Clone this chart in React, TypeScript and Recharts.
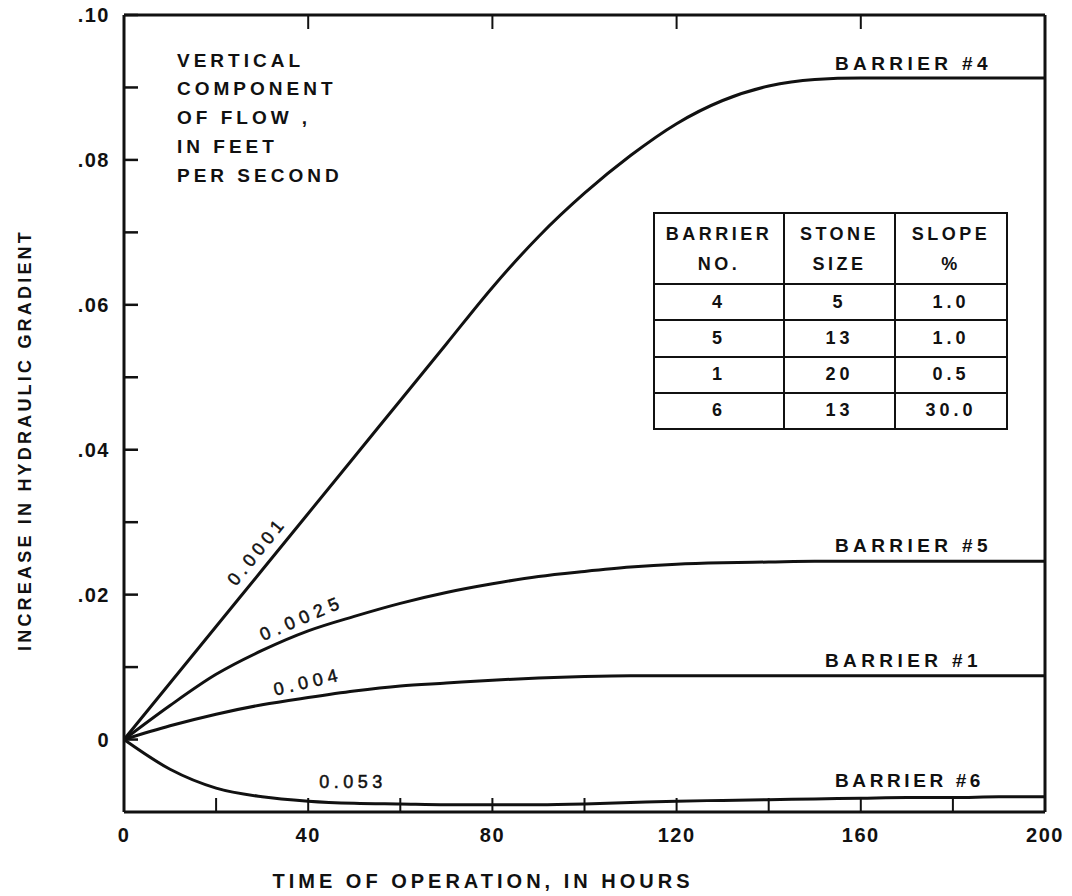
import { LineChart, Line, XAxis, YAxis } from 'recharts';

// time of operation, hours
const hours = [0, 10, 20, 30, 40, 50, 60, 70, 80, 90, 100, 110, 120, 130, 140, 150, 160, 170, 180, 190, 200];

// increase in hydraulic gradient
const barrier4 = [0, 0.0078, 0.0156, 0.0234, 0.0312, 0.039, 0.0468, 0.0546, 0.0624, 0.0694, 0.0754, 0.0806, 0.085, 0.0882, 0.0902, 0.0911, 0.0913, 0.0913, 0.0913, 0.0913, 0.0913];
const barrier5 = [0, 0.0047, 0.009, 0.0123, 0.015, 0.017, 0.0188, 0.0203, 0.0215, 0.0225, 0.0232, 0.0238, 0.0242, 0.0244, 0.0245, 0.0246, 0.0246, 0.0246, 0.0246, 0.0246, 0.0246];
const barrier1 = [0, 0.0019, 0.0035, 0.0048, 0.0058, 0.0067, 0.0074, 0.0078, 0.0082, 0.0085, 0.0087, 0.0088, 0.0088, 0.0088, 0.0088, 0.0088, 0.0088, 0.0088, 0.0088, 0.0088, 0.0088];
const barrier6 = [0, -0.0041, -0.0067, -0.0079, -0.0085, -0.0088, -0.0089, -0.009, -0.009, -0.009, -0.0089, -0.0087, -0.0085, -0.0084, -0.0083, -0.0082, -0.0081, -0.008, -0.008, -0.0079, -0.0079];

const xTicks = [0, 20, 40, 60, 80, 100, 120, 140, 160, 180, 200];
const xLabelTicks = [0, 40, 80, 120, 160, 200];
const topTicks = [40, 80, 120, 160];
const yTicks = [0, 0.01, 0.02, 0.03, 0.04, 0.05, 0.06, 0.07, 0.08, 0.09, 0.1];
const yLabelTicks = [0, 0.02, 0.04, 0.06, 0.08, 0.1];
const rightTicks = [0, 0.02, 0.04, 0.06, 0.08];

const tableBarrierNo = ['4', '5', '1', '6'];
const tableStoneSize = ['5', '13', '20', '13'];
const tableSlope = ['1.0', '1.0', '0.5', '30.0'];

const data = hours.map((h, i) => ({
  hours: h,
  b4: barrier4[i],
  b5: barrier5[i],
  b1: barrier1[i],
  b6: barrier6[i],
}));

const INK = '#111';
const FONT = '"Liberation Sans", Arial, Helvetica, sans-serif';
const TICK_LEN = 14;

const has = (list: number[], v: number) => list.some((t) => Math.abs(t - v) < 1e-9);
const fmtY = (v: number) => (Math.abs(v) < 1e-9 ? '0' : v.toFixed(2).replace(/^0/, ''));

const labelStyle = {
  fontFamily: FONT,
  fontWeight: 'bold' as const,
  fontSize: 20,
  fill: INK,
};

// tickSize/tickMargin are 0, so x/y handed to these are on the axis line itself
function BottomTick(props: any) {
  const { x, y, payload } = props;
  const v = payload.value;
  return (
    <g>
      {v > 0 && v < 200 && (
        <line x1={x} x2={x} y1={y} y2={y - TICK_LEN} stroke={INK} strokeWidth={2} />
      )}
      {has(xLabelTicks, v) && (
        <text x={x} y={y + 23} textAnchor="middle" dominantBaseline="central" letterSpacing={1.5} {...labelStyle}>
          {v}
        </text>
      )}
    </g>
  );
}

function TopTick(props: any) {
  const { x, y } = props;
  return <line x1={x} x2={x} y1={y} y2={y + TICK_LEN} stroke={INK} strokeWidth={2} />;
}

function LeftTick(props: any) {
  const { x, y, payload } = props;
  const v = payload.value;
  return (
    <g>
      <line x1={x} x2={x + TICK_LEN} y1={y} y2={y} stroke={INK} strokeWidth={2.5} />
      {has(yLabelTicks, v) && (
        <text x={x - 14} y={y} textAnchor="end" dominantBaseline="central" letterSpacing={1.5} {...labelStyle}>
          {fmtY(v)}
        </text>
      )}
    </g>
  );
}

function RightTick(props: any) {
  const { x, y } = props;
  return <line x1={x} x2={x - 12} y1={y} y2={y} stroke={INK} strokeWidth={2} />;
}

const cell = {
  border: `2px solid ${INK}`,
  padding: 0,
  textAlign: 'center' as const,
  verticalAlign: 'middle' as const,
};

export default function App() {
  return (
    <div style={{ position: 'relative', width: 1072, height: 896, background: '#fff' }}>
      <style>{'body{margin:0;background:#fff;}'}</style>
      <LineChart
        width={1072}
        height={896}
        data={data}
        margin={{ top: 5, right: 17, bottom: 44, left: 64 }}
      >
        <XAxis
          dataKey="hours"
          type="number"
          domain={[0, 200]}
          ticks={xTicks}
          interval={0}
          height={40}
          tickSize={0}
          tickMargin={0}
          tickLine={false}
          axisLine={{ stroke: INK, strokeWidth: 3 }}
          tick={(p: any) => <BottomTick {...p} />}
        />
        <XAxis
          xAxisId="top"
          orientation="top"
          dataKey="hours"
          type="number"
          domain={[0, 200]}
          ticks={topTicks}
          interval={0}
          height={10}
          tickSize={0}
          tickMargin={0}
          tickLine={false}
          axisLine={{ stroke: INK, strokeWidth: 3 }}
          tick={(p: any) => <TopTick {...p} />}
        />
        <YAxis
          type="number"
          domain={[-0.01, 0.1]}
          ticks={yTicks}
          interval={0}
          width={60}
          tickSize={0}
          tickMargin={0}
          tickLine={false}
          axisLine={{ stroke: INK, strokeWidth: 3 }}
          tick={(p: any) => <LeftTick {...p} />}
        />
        <YAxis
          yAxisId="right"
          orientation="right"
          type="number"
          domain={[-0.01, 0.1]}
          ticks={rightTicks}
          interval={0}
          width={10}
          tickSize={0}
          tickMargin={0}
          tickLine={false}
          axisLine={{ stroke: INK, strokeWidth: 3 }}
          tick={(p: any) => <RightTick {...p} />}
        />
        <Line type="monotone" dataKey="b4" stroke={INK} strokeWidth={3} dot={false} isAnimationActive={false} />
        <Line type="monotone" dataKey="b5" stroke={INK} strokeWidth={3} dot={false} isAnimationActive={false} />
        <Line type="monotone" dataKey="b1" stroke={INK} strokeWidth={3} dot={false} isAnimationActive={false} />
        <Line type="monotone" dataKey="b6" stroke={INK} strokeWidth={3} dot={false} isAnimationActive={false} />
      </LineChart>

      <svg
        width={1072}
        height={896}
        style={{ position: 'absolute', left: 0, top: 0, pointerEvents: 'none' }}
      >
        <g fontFamily={FONT} fontWeight="bold" fill={INK}>
          <text
            transform="translate(25 440) rotate(-90)"
            textAnchor="middle"
            dominantBaseline="central"
            fontSize={18}
            letterSpacing={3.2}
          >
            INCREASE IN HYDRAULIC GRADIENT
          </text>
          <text x={483} y={881} textAnchor="middle" dominantBaseline="central" fontSize={20} letterSpacing={4}>
            TIME OF OPERATION, IN HOURS
          </text>

          <g fontSize={19} letterSpacing={4}>
            <text x={177} y={60} dominantBaseline="central">VERTICAL</text>
            <text x={177} y={88} dominantBaseline="central">COMPONENT</text>
            <text x={177} y={117} dominantBaseline="central">OF FLOW ,</text>
            <text x={177} y={146} dominantBaseline="central">IN FEET</text>
            <text x={177} y={175} dominantBaseline="central">PER SECOND</text>
          </g>

          <g fontSize={19} letterSpacing={4.4}>
            <text x={835} y={63} dominantBaseline="central">BARRIER #4</text>
            <text x={835} y={545} dominantBaseline="central">BARRIER #5</text>
            <text x={825} y={660} dominantBaseline="central">BARRIER #1</text>
            <text x={835} y={780} dominantBaseline="central" letterSpacing={3.6}>BARRIER #6</text>
          </g>
        </g>

        <g fontFamily={FONT} fontSize={18} fill={INK} stroke={INK} strokeWidth={0.5} letterSpacing={4.5}>
          <text transform="translate(257 551) rotate(-51)" textAnchor="middle" dominantBaseline="central">0.0001</text>
          <text transform="translate(302 618) rotate(-23)" textAnchor="middle" dominantBaseline="central" letterSpacing={5.8}>0.0025</text>
          <text transform="translate(308 682) rotate(-13)" textAnchor="middle" dominantBaseline="central" letterSpacing={5}>0.004</text>
          <text x={353} y={782} textAnchor="middle" dominantBaseline="central">0.053</text>
        </g>
      </svg>

      <table
        style={{
          position: 'absolute',
          left: 653,
          top: 212,
          width: 355,
          height: 218,
          borderCollapse: 'collapse',
          fontFamily: FONT,
          fontWeight: 'bold',
          fontSize: 18,
          color: INK,
          background: '#fff',
        }}
      >
        <tbody>
          <tr style={{ height: 71, letterSpacing: 3.5 }}>
            <td style={{ ...cell, width: 130, lineHeight: '30px' }}>BARRIER<br />NO.</td>
            <td style={{ ...cell, width: 112, lineHeight: '30px' }}>STONE<br />SIZE</td>
            <td style={{ ...cell, width: 113, lineHeight: '30px' }}>SLOPE<br />%</td>
          </tr>
          {tableBarrierNo.map((no, i) => (
            <tr key={no} style={{ height: 36, letterSpacing: 4 }}>
              <td style={cell}>{no}</td>
              <td style={cell}>{tableStoneSize[i]}</td>
              <td style={cell}>{tableSlope[i]}</td>
            </tr>
          ))}
        </tbody>
      </table>
    </div>
  );
}
